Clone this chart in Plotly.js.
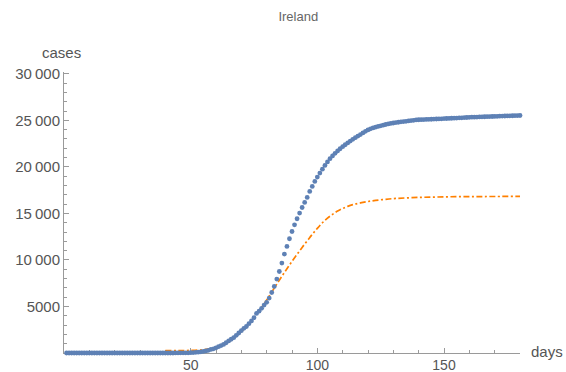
<!DOCTYPE html>
<html>
<head>
<meta charset="utf-8">
<script src="https://cdn.plot.ly/plotly-3.0.1.min.js"></script>
<style>html,body{margin:0;padding:0;background:#fff;}#chart{width:566px;height:372px;}</style>
</head>
<body>
<div id="chart"></div>
<script>
// Reported cumulative cases (one point per day, starting at day 1)
var firstDay = 1;
var reportedCases = [
  0,0,0,0,0,0,0,0,0,0, 0,0,0,0,0,0,0,0,0,0,
  0,0,0,0,0,0,0,0,0,0, 0,0,0,0,0,0,0,0,0,
  1,1,1,2,6,13,18,19,21,24,34,43,70,90,129,169,223,292,
  380,450,560,680,800,920,1100,1300,1480,1650,1900,2150,2400,2650,2850,3150,3450,3800,4250,4500,4800,5150,5450,
  5900,6500,7150,7940,8760,9660,10630,11450,12280,13060,13780,14430,15040,15640,16180,16720,17360,17900,18440,18910,19340,19760,20160,20540,
  20880,21180,21460,21720,21950,22170,22380,22580,22780,22960,23140,23310,23480,23650,23820,23970,24090,24190,24270,24350,24420,24490,24560,24620,24670,24720,24760,24800,24840,24870,24900,24940,24980,25010,25050,25070,
  25080,25090,25100,25110,25120,25140,25150,25160,25170,25190,25200,25210,25230,25240,25250,25270,25280,25300,25310,25330,25340,25350,25360,25370,25380,25390,25400,25410,25420,25430,25440,25450,25460,25470,25480,25490,25500,25510,25520,25525,25530
];
// Model curve (read at sample days)
var modelDays  = [40,45,50,55,58,60,63,66,70,73,76,78,80,82,84,86,88,90,92,94,96,98,100,102,104,106,108,110,112,114,117,120,123,127,131,140,150,160,170,181];
var modelCases = [250,260,280,350,450,600,900,1400,2300,3100,4200,4900,5700,6550,7400,8250,9050,9850,10600,11350,12050,12750,13400,14000,14500,14900,15250,15530,15760,15940,16130,16280,16400,16520,16610,16720,16780,16810,16820,16830];

var xTickVals = [50,100,150];
var xTickText = ['50','100','150'];
var yTickVals = [5000,10000,15000,20000,25000,30000];
var yTickText = ['5000','10\u2009000','15\u2009000','20\u2009000','25\u2009000','30\u2009000'];

var reportedDays = reportedCases.map(function(_, i){ return firstDay + i; });

var axisColor = '#9a9a9a';
var labelColor = '#555555';
var font = 'Liberation Sans, Arial, sans-serif';

var traces = [
  {
    x: modelDays, y: modelCases, type: 'scatter', mode: 'lines',
    line: {color: '#FF8000', width: 1.7, dash: '6px,2.5px,2px,2.5px', shape: 'spline', smoothing: 1},
    hoverinfo: 'skip', cliponaxis: false
  },
  {
    x: reportedDays, y: reportedCases, type: 'scatter', mode: 'markers',
    marker: {color: '#5E81B5', size: 4.8, line: {width: 0}},
    cliponaxis: false
  }
];

var layout = {
  width: 566, height: 372,
  margin: {l: 64, r: 46, t: 72, b: 19, pad: 0},
  paper_bgcolor: '#ffffff', plot_bgcolor: '#ffffff',
  showlegend: false,
  font: {family: font, color: labelColor, size: 15},
  title: {text: 'Ireland', font: {family: font, size: 13, color: '#666666'}, x: 0.527, xanchor: 'center', y: 0.955, yanchor: 'middle'},
  xaxis: {
    range: [0, 180], showgrid: false, zeroline: false,
    showline: true, linecolor: axisColor, linewidth: 1,
    tickmode: 'array', tickvals: xTickVals, ticktext: xTickText,
    ticks: 'inside', ticklen: 5, tickcolor: axisColor, tickwidth: 1,
    tickfont: {family: font, size: 14, color: labelColor},
    ticklabelstandoff: -1,
    minor: {tickmode: 'linear', tick0: 0, dtick: 10, ticks: 'inside', ticklen: 3, tickcolor: axisColor, showgrid: false},
    layer: 'below traces', fixedrange: true
  },
  yaxis: {
    range: [0, 30200], showgrid: false, zeroline: false,
    showline: true, linecolor: axisColor, linewidth: 1,
    tickmode: 'array', tickvals: yTickVals, ticktext: yTickText,
    ticks: 'inside', ticklen: 5, tickcolor: axisColor, tickwidth: 1,
    tickfont: {family: font, size: 15, color: labelColor},
    minor: {tickmode: 'linear', tick0: 0, dtick: 1000, ticks: 'inside', ticklen: 3, tickcolor: axisColor, showgrid: false},
    layer: 'below traces', fixedrange: true
  },
  annotations: [
    {text: 'cases', xref: 'paper', yref: 'paper', x: -0.005, y: 1.07, xanchor: 'center', yanchor: 'middle', showarrow: false, font: {family: font, size: 15, color: labelColor}},
    {text: 'days', xref: 'paper', yref: 'paper', x: 1.02, y: 0.005, xanchor: 'left', yanchor: 'middle', showarrow: false, font: {family: font, size: 15, color: labelColor}}
  ]
};

Plotly.newPlot('chart', traces, layout, {displayModeBar: false, staticPlot: true});
</script>
</body>
</html>
